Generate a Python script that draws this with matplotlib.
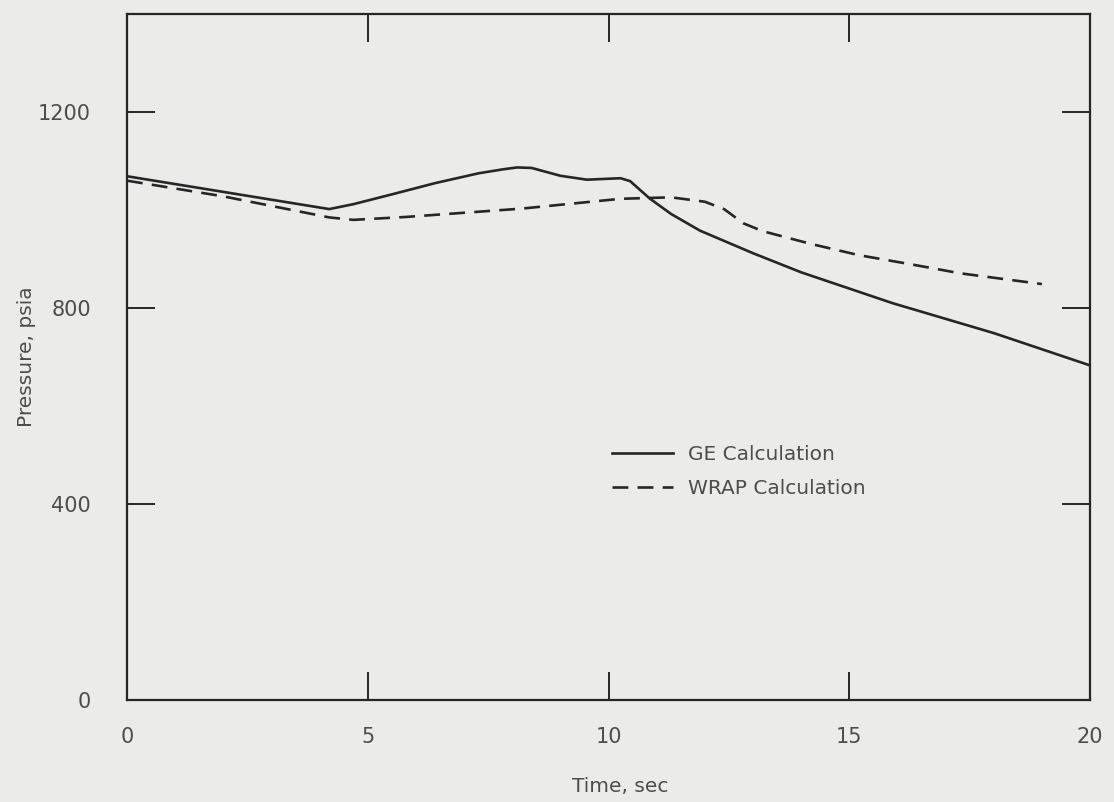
import matplotlib
matplotlib.use("Agg")
import matplotlib.pyplot as plt

# GE transient pressure (solid) vs. WRAP recalculation (dashed)
ge_t = [0, 4.2, 4.7, 5.5, 6.4, 7.3, 7.8, 8.1, 8.4, 8.7, 9.0, 9.55, 10.25, 10.45,
        10.85, 11.3, 11.9, 13.0, 14.0, 15.9, 18.0, 20.0]
ge_p = [1069, 1002, 1012, 1032, 1055, 1075, 1083, 1087, 1086, 1078, 1070, 1062,
        1065, 1059, 1024, 992, 958, 912, 873, 810, 749, 683]

wrap_t = [0, 2.0, 4.2, 4.7, 5.8, 8.2, 10.25, 11.3, 12.0, 12.4, 12.8, 13.2,
          14.2, 15.2, 16.3, 17.3, 19.0]
wrap_p = [1060, 1028, 985, 980, 986, 1003, 1023, 1026, 1017, 1002, 973, 957,
          931, 908, 889, 871, 849]

xticks = [0, 5, 10, 15, 20]
yticks = [0, 400, 800, 1200]

paper = "#ebebea"
ink = "#262626"
txt = "#4d4d4d"

fig = plt.figure(figsize=(11.14, 8.02), dpi=100, facecolor=paper)
ax = fig.add_axes([0.114, 0.127, 0.8645, 0.8555])
ax.set_facecolor(paper)

ax.plot(ge_t, ge_p, color=ink, lw=1.9, label="GE Calculation")
ax.plot(wrap_t, wrap_p, color=ink, lw=1.9, ls=(0, (6, 3.5)),
        label="WRAP Calculation")

ax.set_xlim(0, 20)
ax.set_ylim(0, 1400)
ax.set_xticks(xticks)
ax.set_yticks(yticks)
ax.tick_params(direction="in", top=True, right=True, length=20, width=1.4,
               color=ink, labelcolor=txt, labelsize=15)
ax.tick_params(axis="y", pad=26)
ax.tick_params(axis="x", pad=19)
for s in ax.spines.values():
    s.set_linewidth(1.6)
    s.set_color(ink)

ax.set_xlabel("Time, sec", fontsize=14.5, color=txt)
ax.set_ylabel("Pressure, psia", fontsize=14.5, color=txt)
ax.xaxis.set_label_coords(0.512, -0.112)
ax.yaxis.set_label_coords(-0.095, 0.5)

leg = ax.legend(loc="center left", bbox_to_anchor=(0.504, 0.333), frameon=False,
                fontsize=14.5, handlelength=3.0, handletextpad=0.75,
                labelspacing=0.75, borderpad=0, borderaxespad=0)
for t in leg.get_texts():
    t.set_color(txt)

fig.savefig("out.png", dpi=100, facecolor=paper)
